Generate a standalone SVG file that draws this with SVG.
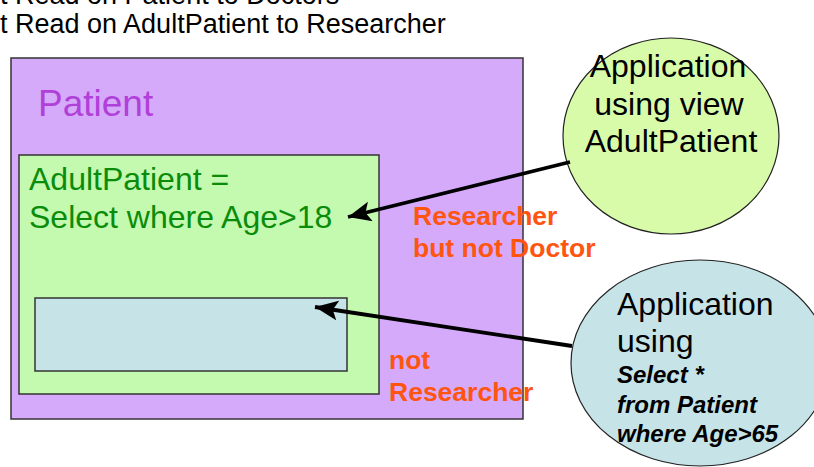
<svg xmlns="http://www.w3.org/2000/svg" width="814" height="467" viewBox="0 0 814 467">
<defs>
<marker id="ah" markerUnits="userSpaceOnUse" markerWidth="26" markerHeight="22" refX="23" refY="10" orient="auto">
<path d="M0,0 L23,10 L0,20 L5,10 Z" fill="#000"/>
</marker>
<style>
.t{font-family:"Liberation Sans",Arial,sans-serif}
.box{stroke:#333;stroke-width:1.5}
.or{font-family:"Liberation Sans",Arial,sans-serif;font-weight:bold;font-size:26.5px;fill:#ff5510}
.blk{font-family:"Liberation Sans",Arial,sans-serif;font-size:32px;fill:#000}
.bi{font-family:"Liberation Sans",Arial,sans-serif;font-size:24px;font-weight:bold;font-style:italic;fill:#000}
.arr{stroke:#000;stroke-width:3.8;fill:none;marker-end:url(#ah)}
</style>
</defs>
<rect width="814" height="467" fill="#fff"/>
<g id="title">
<text class="t" x="0" y="4" font-size="27">t Read on Patient to Doctors</text>
<text class="t" x="0" y="33" font-size="27">t Read on AdultPatient to Researcher</text>
</g>
<g id="patient">
<rect class="box" x="11" y="58" width="512" height="361" fill="#d6aafb"/>
<text class="t" x="38" y="116" font-size="37" fill="#b040d8">Patient</text>
</g>
<g id="adultpatient">
<rect class="box" x="19" y="155" width="360" height="239" fill="#c4f9b0"/>
<text class="t" x="29" y="190" font-size="32" fill="#0a8c0a">AdultPatient =</text>
<text class="t" x="29" y="228" font-size="32" fill="#0a8c0a">Select where Age&gt;18</text>
</g>
<g id="seniorview">
<rect class="box" x="35" y="298" width="312" height="73" fill="#c6e4e8"/>
</g>
<g id="label-researcher">
<text class="or" x="413" y="225">Researcher</text>
<text class="or" x="413" y="257">but not Doctor</text>
</g>
<g id="label-notresearcher">
<text class="or" x="389" y="369">not</text>
<text class="or" x="389" y="401">Researcher</text>
</g>
<g id="app-view">
<ellipse cx="671" cy="136" rx="108" ry="98" fill="#d8fbaa" stroke="#222" stroke-width="1.2"/>
<text class="blk" x="668" y="77" text-anchor="middle">Application</text>
<text class="blk" x="669" y="115" text-anchor="middle">using view</text>
<text class="blk" x="671" y="152" text-anchor="middle">AdultPatient</text>
</g>
<g id="app-select">
<ellipse cx="700" cy="363" rx="129" ry="103" fill="#c6e4e8" stroke="#222" stroke-width="1.2"/>
<text class="blk" x="617" y="315">Application</text>
<text class="blk" x="617" y="352">using</text>
<text class="bi" x="617" y="383">Select *</text>
<text class="bi" x="617" y="413">from Patient</text>
<text class="bi" x="617" y="442">where Age&gt;65</text>
</g>
<g id="connectors">
<line class="arr" x1="570" y1="162" x2="348" y2="217"/>
<line class="arr" x1="572" y1="346" x2="315" y2="307"/>
</g>
</svg>
